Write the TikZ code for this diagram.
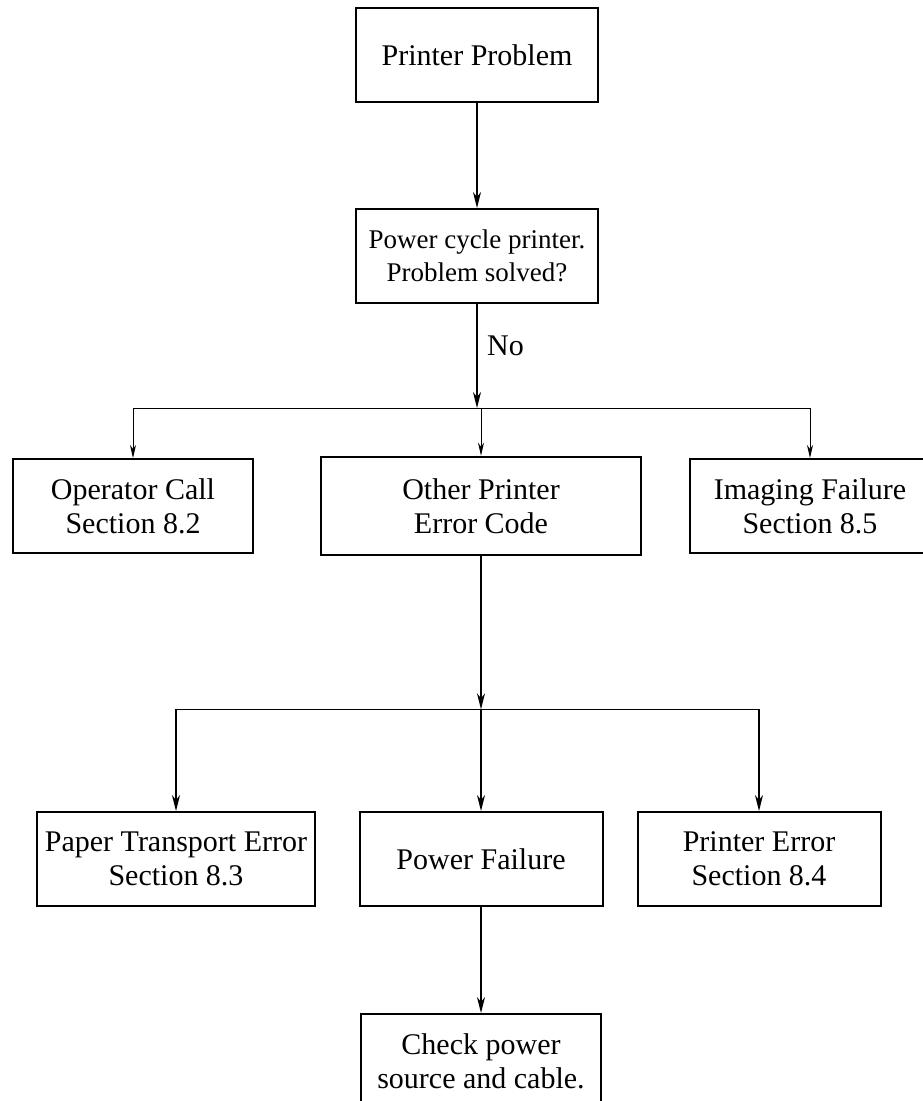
\documentclass[tikz,border=0pt]{standalone}
\usepackage{fontspec}
\setmainfont{Liberation Serif}
\usetikzlibrary{arrows.meta,positioning}

\begin{document}
\begin{tikzpicture}[x=1pt, y=-1pt, node distance=105pt, every node/.style={font=\fontsize{30}{34}\selectfont}, box/.style={draw, line width=2pt, minimum width=242pt, minimum height=94pt, align=center, inner sep=0pt}, flow/.style={line width=1.6pt, -{Stealth[length=16pt, width=8pt, inset=5pt]}}, drop/.style={line width=1pt, -{Stealth[length=13pt, width=6pt, inset=4pt]}}, bar/.style={line width=1pt}]
\useasboundingbox (0,0) rectangle (922,1101);
\node[box] (problem) at (477,55) {Printer Problem};
\node[box, below=of problem, font=\fontsize{27}{33}\selectfont] (cycle) {Power cycle printer.\\Problem solved?};
\node[box, minimum width=240pt] (operator) at (133,506) {Operator Call\\Section 8.2};
\node[box, minimum width=320pt, minimum height=98pt, line width=2.6pt] (other) at (481,506) {Other Printer\\Error Code};
\node[box, minimum width=240pt] (imaging) at (810,506) {Imaging Failure\\Section 8.5};
\node[box, minimum width=278pt] (paper) at (176,859) {Paper Transport Error\\Section 8.3};
\node[box, minimum width=243pt] (power) at (481,859) {Power Failure};
\node[box, minimum width=243pt] (printer) at (759,859) {Printer Error\\Section 8.4};
\node[box, minimum width=240pt, below=106pt of power] (check) {Check power\\source and cable.};
\coordinate (split1) at ([yshift=-104pt]cycle.south);
\coordinate (split2) at ([yshift=-153pt]other.south);
\draw[flow] (problem) -- (cycle);
\draw[flow] (cycle) -- (split1) node[pos=0.4, right=6pt] {No};
\draw[bar] (split1 -| operator) -- (split1 -| imaging);
\draw[drop] (split1 -| operator) -- (operator);
\draw[drop] (split1 -| other) -- (other);
\draw[drop] (split1 -| imaging) -- (imaging);
\draw[flow] (other) -- (split2);
\draw[line width=1.6pt] (split2 -| paper) -- (split2 -| printer);
\draw[flow] (split2 -| paper) -- (paper);
\draw[flow] (split2 -| power) -- (power);
\draw[flow] (split2 -| printer) -- (printer);
\draw[flow] (power) -- (check);
\end{tikzpicture}
\end{document}
